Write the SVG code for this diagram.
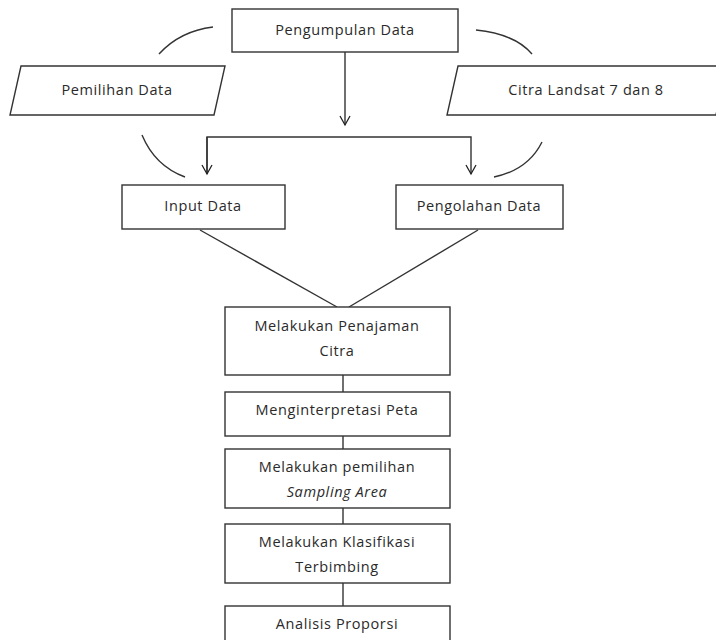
<svg xmlns="http://www.w3.org/2000/svg" width="716" height="640" viewBox="0 0 716 640">
<defs>
<marker id="arr" viewBox="0 0 12 12" refX="10" refY="6" markerWidth="12" markerHeight="12" markerUnits="userSpaceOnUse" orient="auto">
<path d="M1,1 L10,6 L1,11" fill="none" stroke="#222" stroke-width="1.3"/>
</marker>
<style>
.box{fill:#fff;stroke:#333;stroke-width:1.4}
.ln{fill:none;stroke:#333;stroke-width:1.4}
.t{font-family:"Open Sans","Liberation Sans",sans-serif;font-size:14.5px;fill:#2a2a2a;text-anchor:middle;letter-spacing:0.6px}
.it{font-style:italic}
</style>
</defs>
<rect width="716" height="640" fill="#fff"/>
<g id="connectors">
<path class="ln" d="M213,27 Q180,31 159,54"/>
<path class="ln" d="M142,135 Q155,166 185,177"/>
<path class="ln" d="M476,30 Q515,34 532,54"/>
<path class="ln" d="M542,142 Q528,170 494,177"/>
<line class="ln" x1="345" y1="52" x2="345" y2="125" marker-end="url(#arr)"/>
<polyline class="ln" points="207,174 207,137 471,137 471,174" marker-end="url(#arr)"/>
<path class="ln" d="M207,137 L207,174" marker-end="url(#arr)"/>
<line class="ln" x1="200" y1="230" x2="337" y2="307"/>
<line class="ln" x1="478" y1="230" x2="349" y2="307"/>
<line class="ln" x1="343" y1="375" x2="343" y2="392"/>
<line class="ln" x1="343" y1="436" x2="343" y2="449"/>
<line class="ln" x1="343" y1="508" x2="343" y2="524"/>
<line class="ln" x1="343" y1="583" x2="343" y2="606"/>
</g>
<g id="pengumpulan">
<rect class="box" x="232" y="9" width="226" height="43"/>
<text class="t" x="345" y="35">Pengumpulan Data</text>
</g>
<g id="pemilihan">
<polygon class="box" points="21,66 225,66 214,115 10,115"/>
<text class="t" x="117" y="95">Pemilihan Data</text>
</g>
<g id="citra">
<polygon class="box" points="458,66 727,66 716,115 447,115"/>
<text class="t" x="586" y="95">Citra Landsat 7 dan 8</text>
</g>
<g id="input">
<rect class="box" x="122" y="185" width="163" height="44"/>
<text class="t" x="203" y="211">Input Data</text>
</g>
<g id="pengolahan">
<rect class="box" x="396" y="185" width="167" height="44"/>
<text class="t" x="479" y="211">Pengolahan Data</text>
</g>
<g id="penajaman">
<rect class="box" x="225" y="307" width="225" height="68"/>
<text class="t" x="337" y="331">Melakukan Penajaman</text>
<text class="t" x="337" y="356">Citra</text>
</g>
<g id="interpretasi">
<rect class="box" x="225" y="392" width="225" height="44"/>
<text class="t" x="337" y="415">Menginterpretasi Peta</text>
</g>
<g id="sampling">
<rect class="box" x="225" y="449" width="225" height="59"/>
<text class="t" x="337" y="472">Melakukan pemilihan</text>
<text class="t it" x="337" y="497">Sampling Area</text>
</g>
<g id="klasifikasi">
<rect class="box" x="225" y="524" width="225" height="59"/>
<text class="t" x="337" y="547">Melakukan Klasifikasi</text>
<text class="t" x="337" y="572">Terbimbing</text>
</g>
<g id="analisis">
<rect class="box" x="225" y="606" width="225" height="50"/>
<text class="t" x="337" y="629">Analisis Proporsi</text>
</g>
</svg>
